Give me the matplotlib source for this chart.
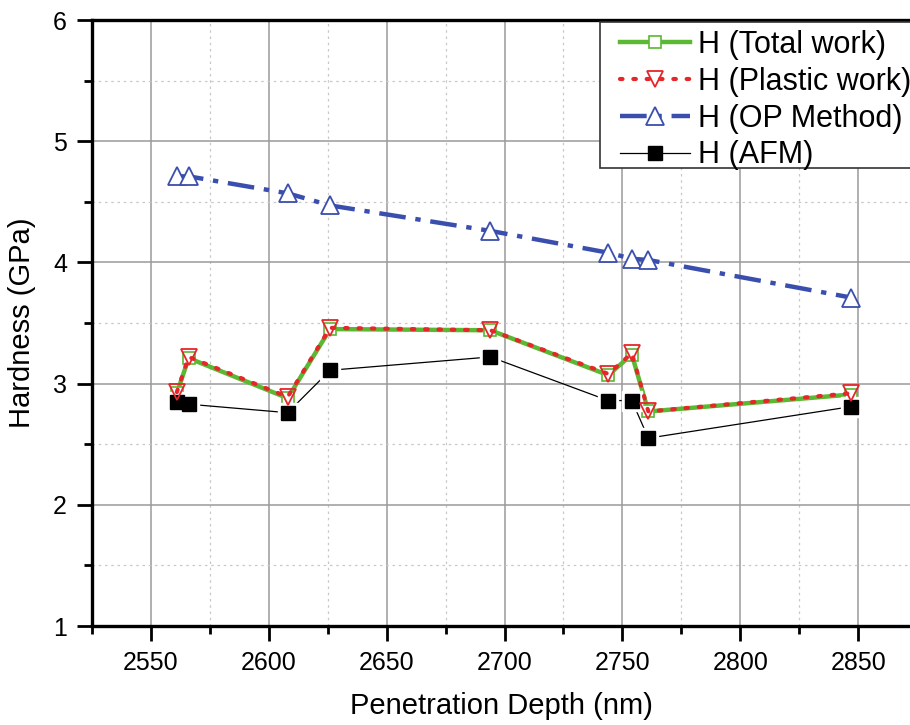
import matplotlib

matplotlib.use("Agg")
import matplotlib.pyplot as plt  # noqa: E402
from matplotlib.patches import Rectangle  # noqa: E402
from matplotlib.ticker import MultipleLocator  # noqa: E402

plt.rcParams["font.family"] = ["Liberation Sans", "DejaVu Sans"]

# penetration depth (nm) and hardness (GPa) for each method
depth = [2561, 2566, 2608, 2626, 2694, 2744, 2754, 2761, 2847]
h_total = [2.92, 3.21, 2.88, 3.45, 3.44, 3.07, 3.24, 2.77, 2.91]
h_plastic = [2.93, 3.22, 2.89, 3.46, 3.44, 3.08, 3.25, 2.77, 2.92]
h_op = [4.71, 4.71, 4.57, 4.47, 4.26, 4.08, 4.03, 4.02, 3.71]
h_afm = [2.85, 2.83, 2.76, 3.11, 3.22, 2.86, 2.86, 2.55, 2.81]

labels = ["H (Total work)", "H (Plastic work)", "H (OP Method)", "H (AFM)"]

GREEN = "#5bb832"
RED = "#e5262b"
BLUE = "#3a4eae"

W, H = 910, 725
fig = plt.figure(figsize=(W / 100, H / 100), dpi=100)
ax = fig.add_axes([92 / W, 1 - 626 / H, 818 / W, 606 / H])

# grid: solid grey majors, dotted light minors
ax.grid(True, which="major", color="#9a9a9a", lw=1.1, zorder=0)
ax.grid(True, which="minor", color="#c8c8c8", lw=0.9, ls=(0, (2, 3)), zorder=0)
ax.set_axisbelow(True)

l_total, = ax.plot(depth, h_total, "-s", color=GREEN, lw=3.2, ms=8.5,
                   mfc="white", mec=GREEN, mew=1.2, zorder=3)
l_plastic, = ax.plot(depth, h_plastic, ls=(0, (0.6, 2.6)), color=RED, lw=3.0,
                     dash_capstyle="round", marker="v", ms=12, mfc="none",
                     mec=RED, mew=1.3, zorder=4)
l_op, = ax.plot(depth, h_op, ls=(0, (6, 2.2, 1.2, 2.2)), color=BLUE, lw=3.2,
                marker="^", ms=12.5, mfc="white", mec=BLUE, mew=1.3, zorder=4)

# AFM: thin line broken around each filled square
ax.plot(depth, h_afm, "-", color="black", lw=0.9, zorder=3)
ax.plot(depth, h_afm, "s", ms=14, color="white", mec="white", zorder=3.5)
ax.plot(depth, h_afm, "s", ms=10, mfc="black", mec="black", zorder=3.6)
afm_handle, = ax.plot([], [], "-s", color="black", lw=0.9, ms=10)

ax.set_xlim(2525, 2872)
ax.set_ylim(1, 6)
ax.xaxis.set_major_locator(MultipleLocator(50))
ax.xaxis.set_minor_locator(MultipleLocator(25))
ax.yaxis.set_major_locator(MultipleLocator(1))
ax.yaxis.set_minor_locator(MultipleLocator(0.5))

ax.tick_params(which="major", direction="out", length=11, width=2,
               labelsize=18, pad=7, top=False, right=False)
ax.tick_params(which="minor", direction="out", length=6, width=2,
               top=False, right=False)
for side in ("left", "bottom", "top"):
    ax.spines[side].set_linewidth(2.4)
ax.spines["right"].set_visible(False)

ax.set_xlabel("Penetration Depth (nm)", fontsize=21, labelpad=12)
ax.set_ylabel("Hardness (GPa)", fontsize=21, labelpad=12)

# legend box runs off the right edge, so draw the frame separately
frame = Rectangle((600 / W, 1 - 168 / H), 330 / W, 146 / H,
                  transform=fig.transFigure, facecolor="white",
                  edgecolor="#333333", lw=1.2, zorder=2)
fig.add_artist(frame)
fig.legend([l_total, l_plastic, l_op, afm_handle], labels,
           loc="upper left", bbox_to_anchor=(614 / W, 1 - 24 / H),
           fontsize=22, frameon=False, handlelength=2.3,
           handletextpad=0.25, labelspacing=0.22, borderpad=0.2,
           borderaxespad=0)

fig.savefig("out.png", dpi=100)
